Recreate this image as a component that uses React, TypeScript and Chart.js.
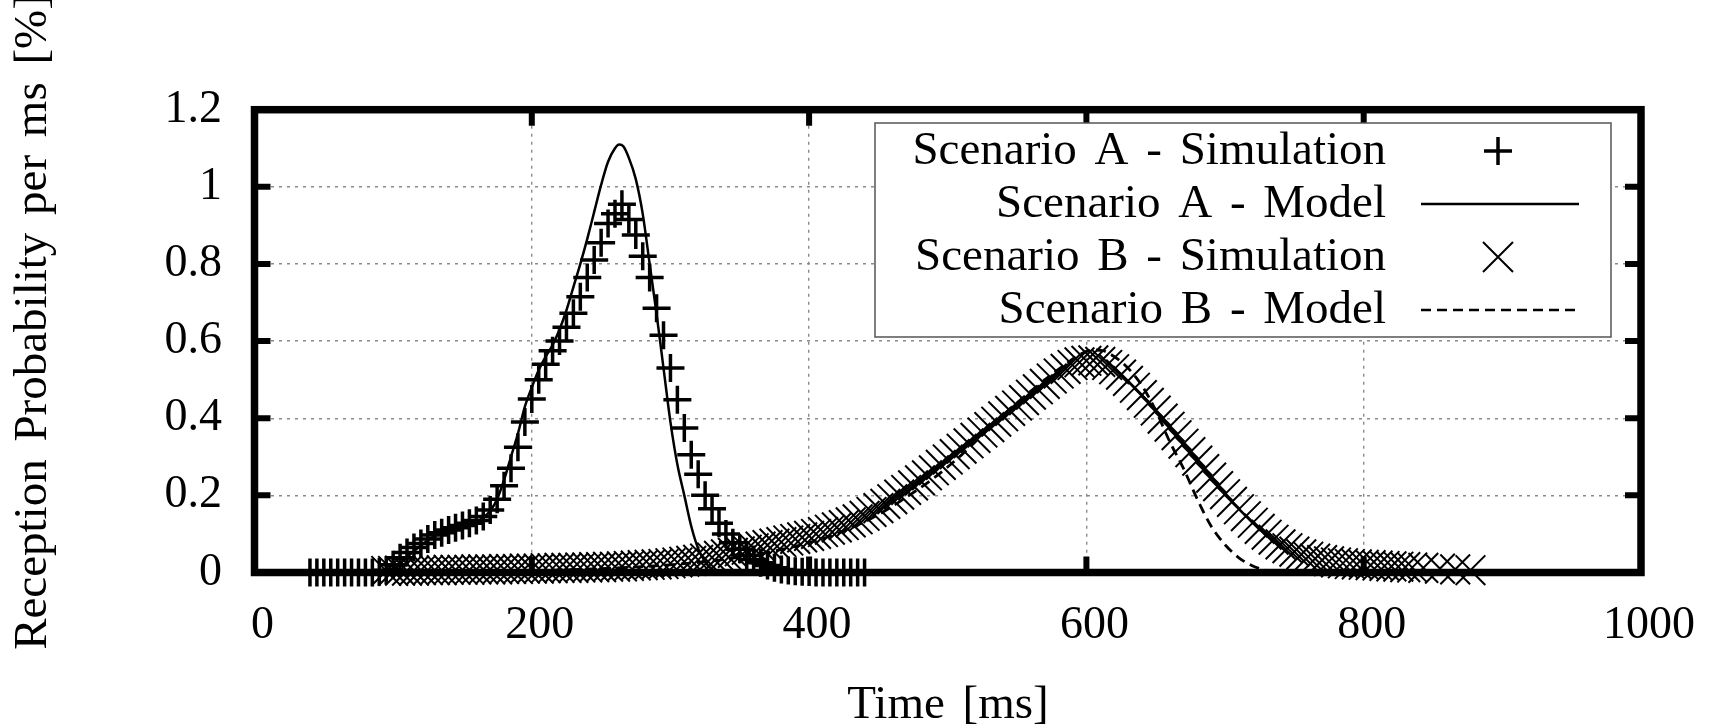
import React, { useEffect, useRef } from 'react';
import { Chart, registerables } from 'chart.js';

Chart.register(...registerables);

const FONT = '"Liberation Serif", "Times New Roman", serif';

// ---- axis ticks / titles ----
const xTicks = [0, 200, 400, 600, 800, 1000];
const yTicks = [0, 0.2, 0.4, 0.6, 0.8, 1, 1.2];
const xTitle = 'Time [ms]';
const yTitle = 'Reception Probability per ms [%]';

// ---- series labels ----
const seriesLabels = [
  'Scenario A - Simulation',
  'Scenario A - Model',
  'Scenario B - Simulation',
  'Scenario B - Model',
];

// ---- Scenario A - Simulation (+) ----
const aSimTime = [
  40, 45, 50, 55, 60, 65, 70, 75, 80, 85, 90, 95,
  100, 105, 110, 115, 120, 125, 130, 135, 140, 145,
  150, 155, 160, 165, 170, 175, 180, 185, 190, 195,
  200, 205, 210, 215, 220, 225, 230, 235, 240, 245,
  250, 255, 260, 265, 270, 275, 280, 285, 290, 295,
  300, 305, 310, 315, 320, 325, 330, 335, 340, 345,
  350, 355, 360, 365, 370, 375, 380, 385, 390, 395,
  400, 405, 410, 415, 420, 425, 430, 435, 440,
];
const aSimValue = [
  0, 0, 0, 0, 0, 0, 0, 0, 0, 0, 0.002, 0.006,
  0.02, 0.038, 0.052, 0.065, 0.075, 0.087, 0.097, 0.103, 0.11, 0.116,
  0.122, 0.128, 0.135, 0.145, 0.162, 0.19, 0.225, 0.27, 0.325, 0.39,
  0.45, 0.5, 0.54, 0.575, 0.6, 0.636, 0.672, 0.715, 0.765, 0.81,
  0.855, 0.905, 0.93, 0.955, 0.915, 0.875, 0.82, 0.765, 0.685, 0.615,
  0.53, 0.448, 0.375, 0.305, 0.255, 0.2, 0.165, 0.128, 0.1, 0.077,
  0.06, 0.045, 0.034, 0.025, 0.018, 0.012, 0.008, 0.005, 0.003, 0.002,
  0.001, 0, 0, 0, 0, 0, 0, 0, 0,
];

// ---- Scenario A - Model (solid) ----
const aModelTime = [
  40, 80, 100, 110, 120, 130, 140, 150, 160, 165,
  170, 175, 180, 185, 190, 195, 200, 205, 210, 215,
  220, 225, 230, 235, 240, 245, 250, 255, 260, 263,
  266, 270, 275, 280, 285, 290, 295, 300, 305, 310,
  315, 320, 325, 330, 335, 400,
];
const aModelValue = [
  0, 0, 0.01, 0.04, 0.07, 0.095, 0.11, 0.12, 0.132, 0.142,
  0.16, 0.19, 0.24, 0.3, 0.36, 0.43, 0.48, 0.525, 0.56, 0.59,
  0.63, 0.68, 0.74, 0.8, 0.865, 0.935, 1.005, 1.065, 1.1, 1.11,
  1.105, 1.075, 1.02, 0.93, 0.8, 0.67, 0.53, 0.39, 0.28, 0.2,
  0.12, 0.062, 0.028, 0.008, 0, 0,
];

// ---- Scenario B - Simulation (x) ----
const bSimTime = [
  95, 100, 105, 110, 115, 120, 125, 130, 135, 140,
  145, 150, 155, 160, 165, 170, 175, 180, 185, 190,
  195, 200, 205, 210, 215, 220, 225, 230, 235, 240,
  245, 250, 255, 260, 265, 270, 275, 280, 285, 290,
  295, 300, 305, 310, 315, 320, 325, 330, 335, 340,
  345, 350, 355, 360, 365, 370, 375, 380, 385, 390,
  395, 400, 405, 410, 415, 420, 425, 430, 435, 440,
  445, 450, 455, 460, 465, 470, 475, 480, 485, 490,
  495, 500, 505, 510, 515, 520, 525, 530, 535, 540,
  545, 550, 555, 560, 565, 570, 575, 580, 585, 590,
  595, 600, 605, 610, 615, 620, 625, 630, 635, 640,
  645, 650, 655, 660, 665, 670, 675, 680, 685, 690,
  695, 700, 705, 710, 715, 720, 725, 730, 735, 740,
  745, 750, 755, 760, 765, 770, 775, 780, 785, 790,
  795, 800, 805, 810, 815, 820, 825, 830, 835, 843,
  855, 866, 877,
];
const bSimValue = [
  0.004, 0.004, 0.005, 0.005, 0.005, 0.006, 0.006, 0.006, 0.006, 0.007,
  0.007, 0.007, 0.007, 0.008, 0.008, 0.008, 0.008, 0.009, 0.009, 0.009,
  0.01, 0.01, 0.01, 0.011, 0.011, 0.012, 0.012, 0.012, 0.013, 0.013,
  0.014, 0.014, 0.015, 0.015, 0.016, 0.017, 0.018, 0.019, 0.02, 0.021,
  0.022, 0.024, 0.026, 0.028, 0.03, 0.033, 0.036, 0.039, 0.043, 0.047,
  0.051, 0.055, 0.059, 0.063, 0.067, 0.071, 0.075, 0.079, 0.083, 0.087,
  0.091, 0.095, 0.1, 0.105, 0.111, 0.117, 0.123, 0.13, 0.138, 0.147,
  0.157, 0.167, 0.178, 0.19, 0.202, 0.214, 0.226, 0.239, 0.252, 0.265,
  0.279, 0.293, 0.307, 0.321, 0.335, 0.349, 0.363, 0.377, 0.391, 0.405,
  0.419, 0.433, 0.447, 0.461, 0.475, 0.489, 0.503, 0.516, 0.528, 0.538,
  0.545, 0.549, 0.55, 0.546, 0.538, 0.527, 0.513, 0.497, 0.479, 0.46,
  0.44, 0.42, 0.399, 0.378, 0.356, 0.334, 0.312, 0.29, 0.268, 0.246,
  0.224, 0.203, 0.183, 0.164, 0.146, 0.129, 0.113, 0.098, 0.085, 0.073,
  0.063, 0.054, 0.047, 0.041, 0.036, 0.032, 0.029, 0.026, 0.024, 0.022,
  0.021, 0.02, 0.019, 0.018, 0.017, 0.016, 0.015, 0.014, 0.013, 0.012,
  0.01, 0.008, 0.006,
];

// ---- Scenario B - Model (dashed) ----
const bModelTime = [
  100, 150, 200, 250, 300, 330, 350, 370, 390, 410,
  430, 450, 470, 490, 510, 530, 550, 570, 585, 595,
  605, 612, 620, 630, 640, 650, 660, 670, 680, 690,
  700, 710, 720, 730, 740,
];
const bModelValue = [
  0, 0.002, 0.005, 0.01, 0.02, 0.03, 0.04, 0.052, 0.068, 0.088,
  0.115, 0.15, 0.195, 0.245, 0.305, 0.375, 0.44, 0.5, 0.54, 0.565,
  0.577, 0.575, 0.56, 0.53, 0.485, 0.42, 0.34, 0.27, 0.19, 0.12,
  0.072, 0.038, 0.017, 0.005, 0,
];

const zip = (xs: number[], ys: number[]) => xs.map((x, i) => ({ x, y: ys[i] }));

const decorPlugin = {
  id: 'decor',
  afterDatasetsDraw(chart: any) {
    const { ctx, chartArea: a, scales } = chart;
    ctx.save();
    ctx.strokeStyle = '#000';
    ctx.lineCap = 'butt';
    ctx.setLineDash([]);
    // inward mirrored tick marks
    ctx.lineWidth = 6;
    const tl = 16;
    ctx.beginPath();
    for (const v of xTicks) {
      const px = scales.x.getPixelForValue(v);
      ctx.moveTo(px, a.bottom); ctx.lineTo(px, a.bottom - tl);
      ctx.moveTo(px, a.top); ctx.lineTo(px, a.top + tl);
    }
    for (const v of yTicks) {
      const py = scales.y.getPixelForValue(v);
      ctx.moveTo(a.left, py); ctx.lineTo(a.left + tl, py);
      ctx.moveTo(a.right, py); ctx.lineTo(a.right - tl, py);
    }
    ctx.stroke();
    // frame
    ctx.lineWidth = 7.5;
    ctx.strokeRect(a.left, a.top, a.right - a.left, a.bottom - a.top);

    // legend box
    const bx = 875, by = 123, bw = 736, bh = 214;
    ctx.fillStyle = '#fff';
    ctx.fillRect(bx, by, bw, bh);
    ctx.lineWidth = 1.5;
    ctx.strokeStyle = '#555';
    ctx.strokeRect(bx, by, bw, bh);

    ctx.fillStyle = '#000';
    ctx.strokeStyle = '#000';
    ctx.font = `47px ${FONT}`;
    ctx.textAlign = 'right';
    ctx.textBaseline = 'alphabetic';
    (ctx as any).wordSpacing = '6px';
    const baselines = [164, 217, 270, 323];
    const textRight = 1386;
    const symX = 1498;
    chart.data.datasets.forEach((ds: any, i: number) => {
      ctx.fillText(ds.label, textRight, baselines[i]);
      const cy = baselines[i] - 13;
      ctx.beginPath();
      if (i === 0) {
        ctx.lineWidth = 3.5;
        ctx.setLineDash([]);
        ctx.moveTo(symX - 14, cy); ctx.lineTo(symX + 14, cy);
        ctx.moveTo(symX, cy - 14); ctx.lineTo(symX, cy + 14);
      } else if (i === 2) {
        ctx.lineWidth = 2;
        ctx.setLineDash([]);
        const r = 15;
        ctx.moveTo(symX - r, cy - r); ctx.lineTo(symX + r, cy + r);
        ctx.moveTo(symX - r, cy + r); ctx.lineTo(symX + r, cy - r);
      } else {
        ctx.lineWidth = 2.5;
        ctx.setLineDash(i === 3 ? [10, 6] : []);
        ctx.moveTo(1421, cy); ctx.lineTo(1579, cy);
      }
      ctx.stroke();
    });
    ctx.restore();
  },
  afterDraw(chart: any) {
    const { ctx } = chart;
    ctx.save();
    ctx.fillStyle = '#000';
    ctx.font = `47px ${FONT}`;
    (ctx as any).wordSpacing = '6px';
    ctx.textAlign = 'center';
    ctx.textBaseline = 'alphabetic';
    ctx.fillText(xTitle, 948, 718);
    ctx.translate(46, 322);
    ctx.rotate(-Math.PI / 2);
    ctx.fillText(yTitle, 0, 0);
    ctx.restore();
  },
};

export default function App() {
  const ref = useRef<HTMLCanvasElement | null>(null);

  useEffect(() => {
    if (!ref.current) return;
    const gridColor = '#8a8a8a';
    const chart = new Chart(ref.current, {
      type: 'line',
      data: {
        datasets: [
          {
            label: seriesLabels[0],
            data: zip(aSimTime, aSimValue),
            showLine: false,
            pointStyle: 'cross',
            pointRadius: 14,
            pointBorderWidth: 3.5,
            borderColor: '#000',
            backgroundColor: '#000',
            clip: false,
          },
          {
            label: seriesLabels[1],
            data: zip(aModelTime, aModelValue),
            showLine: true,
            pointRadius: 0,
            borderWidth: 2.5,
            borderColor: '#000',
            cubicInterpolationMode: 'monotone',
            fill: false,
          },
          {
            label: seriesLabels[2],
            data: zip(bSimTime, bSimValue),
            showLine: false,
            pointStyle: 'crossRot',
            pointRadius: 21,
            pointBorderWidth: 2,
            borderColor: '#000',
            backgroundColor: '#000',
            clip: false,
          },
          {
            label: seriesLabels[3],
            data: zip(bModelTime, bModelValue),
            showLine: true,
            pointRadius: 0,
            borderWidth: 2.8,
            borderDash: [10, 6],
            borderColor: '#000',
            cubicInterpolationMode: 'monotone',
            fill: false,
          },
        ],
      } as any,
      options: {
        animation: false,
        responsive: false,
        devicePixelRatio: 1,
        events: [],
        layout: { padding: { left: 0, right: 70.5, top: 109.7, bottom: 0 } },
        plugins: { legend: { display: false }, tooltip: { enabled: false }, title: { display: false } },
        scales: {
          x: {
            type: 'linear',
            min: 0,
            max: 1000,
            afterBuildTicks: (s: any) => { s.ticks = xTicks.map((v) => ({ value: v })); },
            afterFit: (s: any) => { s.height = 154.5; },
            ticks: {
              color: '#000',
              font: { family: FONT, size: 46 },
              padding: 26,
              labelOffset: 8,
              maxRotation: 0,
              autoSkip: false,
              callback: (v: any) => String(v),
            },
            grid: { color: gridColor, lineWidth: 1.4, drawTicks: false },
            border: { display: false, dash: [3, 5] },
          },
          y: {
            type: 'linear',
            min: 0,
            max: 1.2,
            afterBuildTicks: (s: any) => { s.ticks = yTicks.map((v) => ({ value: v })); },
            afterFit: (s: any) => { s.width = 254.5; },
            ticks: {
              color: '#000',
              font: { family: FONT, size: 46 },
              padding: 32.5,
              autoSkip: false,
              callback: (v: any) => String(Math.round(Number(v) * 10) / 10),
            },
            grid: { color: gridColor, lineWidth: 1.4, drawTicks: false },
            border: { display: false, dash: [3, 5] },
          },
        },
      } as any,
      plugins: [decorPlugin],
    });
    return () => chart.destroy();
  }, []);

  return (
    <div style={{ position: 'fixed', left: 0, top: 0, width: 1713, height: 727, background: '#fff' }}>
      <canvas ref={ref} width={1713} height={727} style={{ display: 'block' }} />
    </div>
  );
}
